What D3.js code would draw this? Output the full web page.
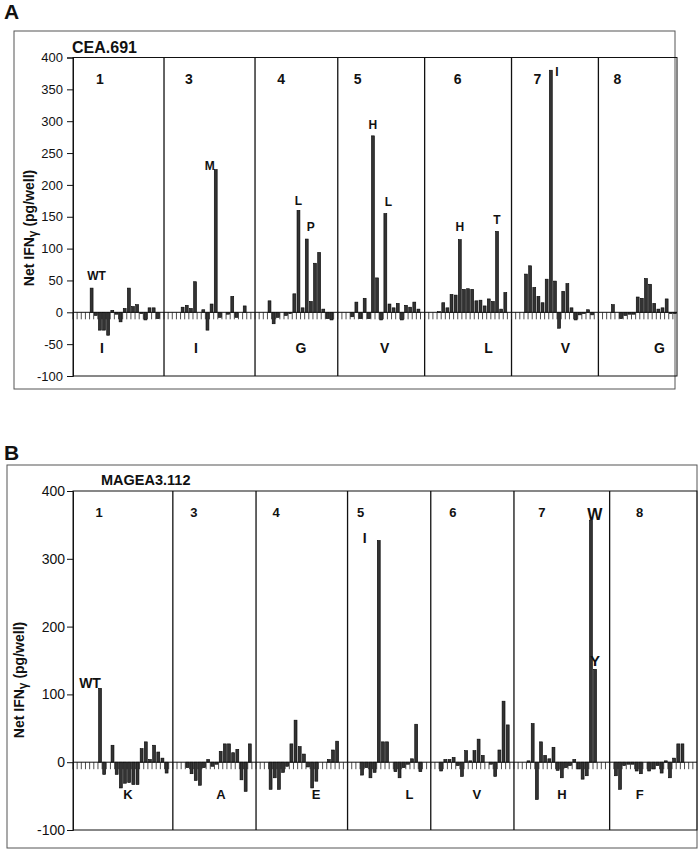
<!DOCTYPE html>
<html>
<head>
<meta charset="utf-8">
<script src="https://cdn.jsdelivr.net/npm/d3@7"></script>
<style>
  body { margin: 0; background: #fff; }
  svg { display: block; font-family: "Liberation Sans", Arial, sans-serif; }
</style>
</head>
<body>
<svg id="chart" width="700" height="853"></svg>
<script>
// Peptide positions that were substituted (one block per position)
const positions = ['1', '3', '4', '5', '6', '7', '8'];

// Panel A - CEA.691, net IFN-gamma (pg/well) per substitution, 0 = no bar
const ceaP1 = [0, 0, 0, 0, 38, -5, -28, -28, -36, 3, -3, -15, 6, 38, 9, 12, -2, -12, 7, 7, -10, 0];
const ceaP3 = [0, 0, 0, 0, 8, 11, 6, 48, 0, 4, -28, 13, 224, -8, 0, -3, 25, -8, 0, 10, 0, 0];
const ceaP4 = [0, 0, 0, 18, -18, -8, 0, -5, -2, 29, 160, 7, 115, 17, 77, 94, 5, -10, -12, 0];
const ceaP5 = [0, 0, 0, -7, 16, -10, 22, -10, 277, 54, -12, 155, 13, 7, 14, -12, 11, 8, 16, 5, 0];
const ceaP6 = [0, 0, 0, 1, 15, 7, 28, 27, 114, 36, 37, 36, 18, 19, 10, 21, 17, 127, 5, 31, 0];
const ceaP7 = [0, 0, 0, 60, 73, 39, 25, 15, 52, 380, 49, -25, 33, 45, 7, -12, -4, -2, 4, -4, 0];
const ceaP8 = [0, 0, 0, 12, 0, -10, -5, -3, -3, 24, 22, 53, 44, 14, 5, 7, 21, -2, -2];
const ceaWild = ['I', 'I', 'G', 'V', 'L', 'V', 'G'];
const ceaMarks = [
  { pos: 0, i: 4, t: 'WT' }, { pos: 1, i: 12, t: 'M' }, { pos: 2, i: 10, t: 'L' },
  { pos: 2, i: 12, t: 'P' }, { pos: 3, i: 8, t: 'H' }, { pos: 3, i: 11, t: 'L' },
  { pos: 4, i: 8, t: 'H' }, { pos: 4, i: 17, t: 'T' }, { pos: 5, i: 9, t: 'I' }
];

// Panel B - MAGEA3.112
const mageP1 = [0, 0, 0, 0, 0, 0, 109, -18, 0, 25, -18, -38, -31, -30, -33, -33, 20, 30, 4, 25, 15, 6, -16, 0];
const mageP3 = [0, 0, 0, -8, -17, -27, -34, -8, 4, -6, -3, 16, 27, 27, 14, 19, -26, -43, 27, 0];
const mageP4 = [0, 0, 0, -40, -23, -40, -15, -6, 27, 62, 23, 12, -7, -38, -28, 0, 0, 4, 18, 31, 0, 0];
const mageP5 = [0, 0, 0, -19, -8, -23, -15, 327, 30, 30, 0, -14, -23, -8, -3, 5, 56, -14, 0, 0];
const mageP6 = [0, 0, -13, 4, 4, 7, -5, -21, 17, 2, 17, 34, 10, 0, -3, -21, 18, 90, 55, 0];
const mageP7 = [0, 0, 0, 2, 57, -55, 30, 10, 5, 22, -12, -23, -8, -5, 4, -10, -25, -20, 357, 137, 0, 0, 0];
const mageP8 = [0, -20, -40, -5, -3, -3, -13, -17, 0, -13, -10, -5, -16, 2, -23, 6, 27, 27, 0, 0, 0];
const mageWild = ['K', 'A', 'E', 'L', 'V', 'H', 'F'];
const mageMarks = [
  { pos: 0, i: 6, t: 'WT' }, { pos: 3, i: 7, t: 'I' },
  { pos: 5, i: 18, t: 'W' }, { pos: 5, i: 19, t: 'Y' }
];

const ceaTicks = [-100, -50, 0, 50, 100, 150, 200, 250, 300, 350, 400];
const mageTicks = [-100, 0, 100, 200, 300, 400];

// layout of the two panels (taken from the scanned figure)
const panels = [
  {
    letter: 'A', letterXY: [4, 19], letterSize: 21,
    title: 'CEA.691', titleXY: [72, 53], titleSize: 16,
    outer: [14, 31, 675, 389],
    plot: { left: 73, right: 677, top: 57.5, bottom: 376 },
    series: [ceaP1, ceaP3, ceaP4, ceaP5, ceaP6, ceaP7, ceaP8],
    wild: ceaWild, marks: ceaMarks, ticks: ceaTicks,
    tickSize: 13, tickPad: 4,
    ylabelXY: [29, 228],
    numDx: [27, 25, 26, 20, 33, 26, 19], numY: 84, numSize: 14,
    wildDx: [29, 32, 46, 47, 64, 54, 61], wildY: 353, wildSize: 14,
    markSize: 12,
    markNudge: [[5, -8], [-6, 0], [0, -5], [4, -8], [0, -7], [3, -8], [0, -9], [0, -7], [6, 6]]
  },
  {
    letter: 'B', letterXY: [4, 460], letterSize: 21,
    title: 'MAGEA3.112', titleXY: [101, 485], titleSize: 14.5,
    outer: [7, 465, 697, 848],
    plot: { left: 73, right: 697, top: 491, bottom: 830 },
    series: [mageP1, mageP3, mageP4, mageP5, mageP6, mageP7, mageP8],
    wild: mageWild, marks: mageMarks, ticks: mageTicks,
    tickSize: 14, tickPad: 2,
    ylabelXY: [19, 680],
    numDx: [26, 21, 20, 13, 22, 28, 30], numY: 517, numSize: 13,
    wildDx: [55, 48, 60, 62, 46, 48, 30], wildY: 799, wildSize: 13,
    markSize: 14,
    markNudge: [[-10, 0], [-14, 3], [4, 0], [0, -3]],
    markSizes: [14, 14, 16, 15]
  }
];

const svg = d3.select('#chart');

function drawPanel(p) {
  const g = svg.append('g');

  g.append('rect')
    .attr('x', p.outer[0]).attr('y', p.outer[1])
    .attr('width', p.outer[2] - p.outer[0]).attr('height', p.outer[3] - p.outer[1])
    .attr('fill', 'none').attr('stroke', '#555').attr('stroke-width', 1);

  // one band per substitution, blocks laid side by side
  const keys = [];
  const starts = [];
  const bars = [];
  p.series.forEach((vals, s) => {
    starts.push(keys.length);
    vals.forEach((v, i) => {
      const key = s + ':' + i;
      keys.push(key);
      bars.push({ key, s, i, v });
    });
  });

  const pad = 0.3;
  const x = d3.scaleBand()
    .domain(keys)
    .range([p.plot.left, p.plot.right])
    .paddingInner(pad)
    .paddingOuter(pad / 2);
  const step = x.step();
  const slot = k => x(k) - step * pad / 2;
  const cx = k => x(k) + x.bandwidth() / 2;

  const y = d3.scaleLinear().domain([-100, 400]).range([p.plot.bottom, p.plot.top]);

  // plot frame
  g.append('rect')
    .attr('x', p.plot.left).attr('y', p.plot.top)
    .attr('width', p.plot.right - p.plot.left).attr('height', p.plot.bottom - p.plot.top)
    .attr('fill', 'none').attr('stroke', '#111').attr('stroke-width', 1);

  // y axis
  const yAxis = g.append('g')
    .attr('transform', `translate(${p.plot.left},0)`)
    .call(d3.axisLeft(y).tickValues(p.ticks).tickSize(6).tickPadding(p.tickPad).tickFormat(d => String(d)));
  yAxis.select('.domain').attr('stroke', '#111');
  yAxis.selectAll('.tick line').attr('stroke', '#111');
  yAxis.selectAll('.tick text')
    .attr('fill', '#111')
    .style('font-size', p.tickSize + 'px')
    .style('font-family', '"Liberation Sans", Arial, sans-serif');

  // position separators
  starts.slice(1).forEach(st => {
    const sx = slot(keys[st]);
    g.append('line')
      .attr('x1', sx).attr('x2', sx)
      .attr('y1', p.plot.top).attr('y2', p.plot.bottom)
      .attr('stroke', '#111').attr('stroke-width', 1.3);
  });

  // category ticks under the zero line
  g.append('g')
    .selectAll('line')
    .data(keys)
    .join('line')
    .attr('x1', d => slot(d)).attr('x2', d => slot(d))
    .attr('y1', y(0)).attr('y2', y(0) + 7)
    .attr('stroke', '#222').attr('stroke-width', 0.8);

  // bars
  g.append('g')
    .selectAll('rect')
    .data(bars.filter(d => d.v !== 0))
    .join('rect')
    .attr('x', d => x(d.key))
    .attr('width', x.bandwidth())
    .attr('y', d => y(Math.max(d.v, 0)))
    .attr('height', d => Math.abs(y(d.v) - y(0)))
    .attr('fill', '#333')
    .attr('stroke', '#000')
    .attr('stroke-width', 0.6);

  // zero line
  g.append('line')
    .attr('x1', p.plot.left).attr('x2', p.plot.right)
    .attr('y1', y(0)).attr('y2', y(0))
    .attr('stroke', '#111').attr('stroke-width', 1);

  // position numbers
  g.append('g')
    .selectAll('text')
    .data(positions)
    .join('text')
    .attr('x', (d, s) => slot(keys[starts[s]]) + p.numDx[s])
    .attr('y', p.numY)
    .attr('text-anchor', 'middle')
    .attr('font-weight', 'bold')
    .attr('font-size', p.numSize)
    .attr('fill', '#111')
    .text(d => d);

  // wild-type residue under each block
  g.append('g')
    .selectAll('text')
    .data(p.wild)
    .join('text')
    .attr('x', (d, s) => slot(keys[starts[s]]) + p.wildDx[s])
    .attr('y', p.wildY)
    .attr('text-anchor', 'middle')
    .attr('font-weight', 'bold')
    .attr('font-size', p.wildSize)
    .attr('fill', '#111')
    .text(d => d);

  // residue letters on the responding bars
  g.append('g')
    .selectAll('text')
    .data(p.marks)
    .join('text')
    .attr('x', (m, j) => cx(m.pos + ':' + m.i) + p.markNudge[j][0])
    .attr('y', (m, j) => y(p.series[m.pos][m.i]) + p.markNudge[j][1])
    .attr('text-anchor', 'middle')
    .attr('font-weight', 'bold')
    .attr('font-size', (m, j) => p.markSizes ? p.markSizes[j] : p.markSize)
    .attr('fill', '#111')
    .text(m => m.t);

  // titles
  g.append('text')
    .attr('x', p.letterXY[0]).attr('y', p.letterXY[1])
    .attr('font-weight', 'bold').attr('font-size', p.letterSize)
    .attr('fill', '#111')
    .text(p.letter);

  g.append('text')
    .attr('x', p.titleXY[0]).attr('y', p.titleXY[1])
    .attr('font-weight', 'bold').attr('font-size', p.titleSize)
    .attr('fill', '#111')
    .text(p.title);

  const yl = g.append('text')
    .attr('transform', `translate(${p.ylabelXY[0]},${p.ylabelXY[1]}) rotate(-90)`)
    .attr('y', 5)
    .attr('text-anchor', 'middle')
    .attr('font-weight', 'bold')
    .attr('font-size', 14)
    .attr('fill', '#111');
  yl.append('tspan').text('Net IFN');
  yl.append('tspan').attr('dy', 3).attr('font-size', 12).text('γ');
  yl.append('tspan').attr('dy', -3).text(' (pg/well)');
}

panels.forEach(drawPanel);
</script>
</body>
</html>
